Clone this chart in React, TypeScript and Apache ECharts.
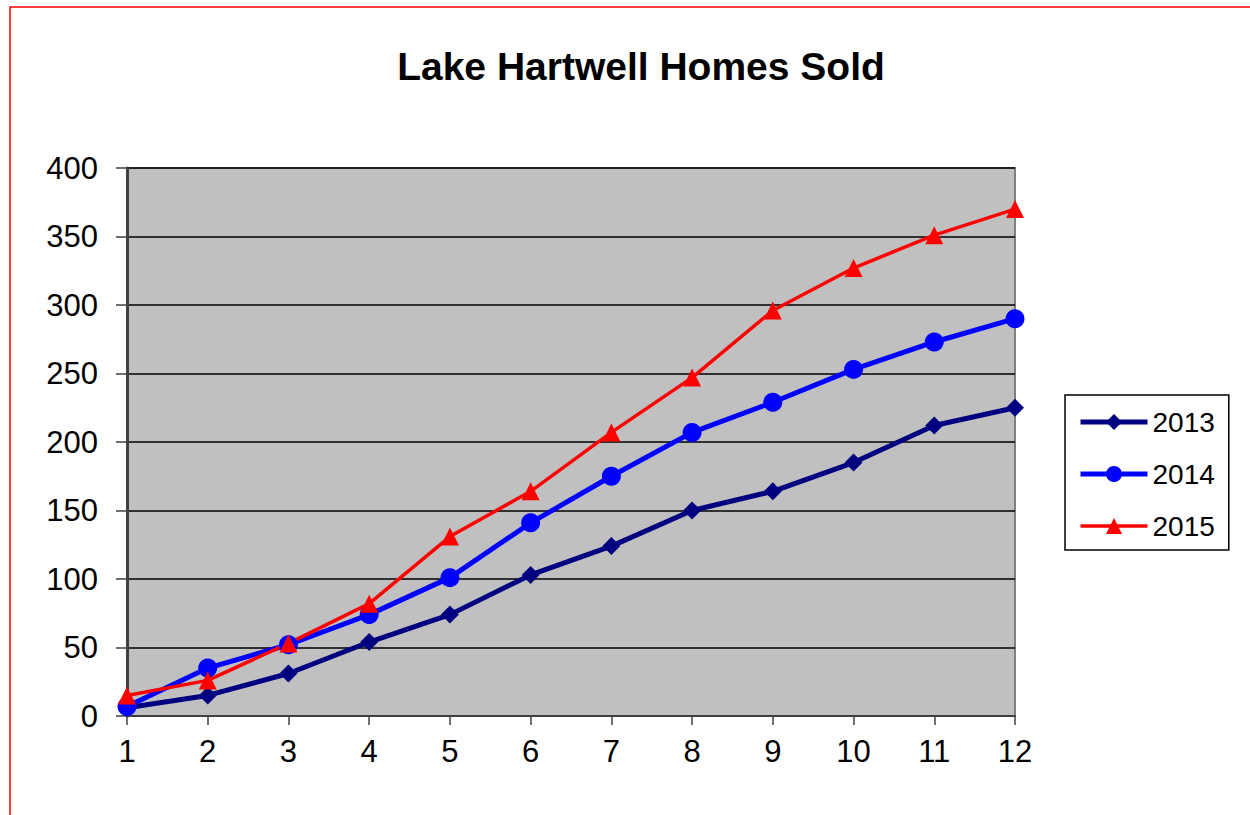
import React, { useEffect, useRef } from "react";
import * as echarts from "echarts";

const categories = ["1", "2", "3", "4", "5", "6", "7", "8", "9", "10", "11", "12"];
const sales2013 = [6, 15, 31, 54, 74, 103, 124, 150, 164, 185, 212, 225];
const sales2014 = [7, 35, 52, 74, 101, 141, 175, 207, 229, 253, 273, 290];
const sales2015 = [15, 26, 53, 82, 131, 164, 207, 247, 296, 327, 351, 370];

export default function App() {
  const ref = useRef<HTMLDivElement>(null);
  useEffect(() => {
    if (!ref.current) return;
    const chart = echarts.init(ref.current, null, { renderer: "svg" });
    const font = "Arial, 'Liberation Sans', sans-serif";
    chart.setOption({
      animation: false,
      backgroundColor: "#ffffff",
      title: {
        text: "Lake Hartwell Homes Sold",
        left: 636,
        top: 42,
        textAlign: "center",
        textStyle: { fontFamily: font, fontSize: 39, fontWeight: "bold", color: "#000" },
      },
      graphic: [
        {
          type: "rect",
          shape: { x: 10, y: 7, width: 1260, height: 830 },
          style: { fill: "none", stroke: "#ff0000", lineWidth: 1.5 },
          silent: true,
        },
      ],
      grid: {
        left: 127,
        top: 168,
        right: 235,
        bottom: 99,
        show: true,
        backgroundColor: "#C0C0C0",
        borderColor: "#808080",
        borderWidth: 2,
      },
      legend: {
        orient: "vertical",
        left: 1065,
        top: 395,
        padding: [13, 14, 10, 13],
        itemGap: 24,
        itemWidth: 67,
        itemHeight: 20,
        borderColor: "#000",
        borderWidth: 1.5,
        backgroundColor: "#fff",
        textStyle: { fontFamily: font, fontSize: 28, color: "#000" },
        data: [
          { name: "2013", lineStyle: { width: 5 } },
          { name: "2014", lineStyle: { width: 5 } },
          { name: "2015", lineStyle: { width: 3.5 } },
        ],
      },
      xAxis: {
        type: "category",
        data: categories,
        boundaryGap: false,
        axisLine: { show: true, lineStyle: { color: "#404040", width: 2 } },
        axisTick: { show: true, length: 9, lineStyle: { color: "#404040", width: 1.5 } },
        axisLabel: { fontFamily: font, fontSize: 31, color: "#000", margin: 20 },
        splitLine: { show: false },
      },
      yAxis: {
        type: "value",
        min: 0,
        max: 400,
        interval: 50,
        axisLine: { show: true, lineStyle: { color: "#404040", width: 3 } },
        axisTick: { show: true, length: 11, lineStyle: { color: "#404040", width: 1.5 } },
        axisLabel: { fontFamily: font, fontSize: 31, color: "#000", margin: 29 },
        splitLine: { show: true, lineStyle: { color: "#000", width: 1.5 } },
      },
      series: [
        {
          name: "2013",
          type: "line",
          data: sales2013,
          symbol: "diamond",
          symbolSize: 18,
          itemStyle: { color: "#000080" },
          lineStyle: { color: "#000080", width: 5 },
        },
        {
          name: "2014",
          type: "line",
          data: sales2014,
          symbol: "circle",
          symbolSize: 19,
          itemStyle: { color: "#0000ff" },
          lineStyle: { color: "#0000ff", width: 5 },
        },
        {
          name: "2015",
          type: "line",
          data: sales2015,
          symbol: "triangle",
          symbolSize: 18,
          itemStyle: { color: "#ff0000" },
          lineStyle: { color: "#ff0000", width: 3.5 },
        },
      ],
    });
    return () => chart.dispose();
  }, []);
  return (
    <div
      ref={ref}
      style={{ position: "fixed", left: 0, top: 0, width: 1250, height: 815 }}
    />
  );
}
